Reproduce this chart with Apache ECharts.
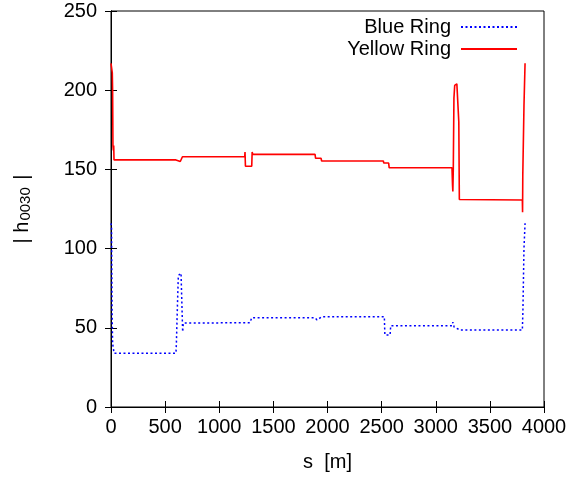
<!DOCTYPE html>
<html>
<head>
<meta charset="utf-8">
<script src="https://cdn.jsdelivr.net/npm/echarts@6/dist/echarts.min.js"></script>
<style>html,body{margin:0;padding:0;background:#fff}#c{width:572px;height:477px}</style>
</head>
<body>
<div id="c"></div>
<script>
// Blue Ring: s [m] and |h0030|
const blueS = [0, 5, 10, 15, 22, 28, 600, 604, 612, 622, 647, 662, 668, 1284, 1300, 1885, 1903, 1920, 1950, 2525, 2530, 2578, 2584, 3150, 3158, 3170, 3224, 3800, 3805, 3815, 3825];
const blueH = [116, 114, 60, 40, 37, 34, 34, 40, 60, 83, 84.5, 47.5, 53, 53.2, 56.4, 56.4, 55, 56, 57, 57, 45.5, 45.5, 51.3, 51.3, 53.5, 50.5, 48.6, 48.6, 60, 100, 116];
// Yellow Ring
const yellowS = [0, 8, 12, 15, 18, 22, 25, 28, 600, 606, 640, 645, 660, 1235, 1238, 1242, 1300, 1304, 1310, 1885, 1890, 1940, 1946, 2516, 2520, 2565, 2570, 3150, 3155, 3158, 3162, 3168, 3175, 3195, 3208, 3213, 3218, 3800, 3802, 3804, 3815, 3825];
const yellowH = [217, 216, 211, 200, 165, 162, 165, 156, 156, 155, 155, 156, 158, 158, 161, 152, 152, 161, 159.5, 159.5, 157, 157, 155.3, 155.3, 154, 154, 151, 151, 140, 136, 150, 195, 203, 204, 203, 180, 131, 130.7, 123, 146, 190, 217];
const xTicks = {min: 0, max: 4000, interval: 500};
const yTicks = {min: 0, max: 250, interval: 50};
const seriesNames = ['Blue Ring', 'Yellow Ring'];

const zip = (a, b) => a.map((v, i) => [v, b[i]]);
const FONT = 'Liberation Sans, Arial, sans-serif';
const chart = echarts.init(document.getElementById('c'), null, {renderer: 'canvas'});
const tickStyle = {show: true, inside: true, length: 6, lineStyle: {color: '#000', width: 1}};
chart.setOption({
  animation: false,
  backgroundColor: '#fff',
  grid: {left: 111, right: 28, top: 11, bottom: 70, show: true, borderColor: '#000', borderWidth: 1},
  legend: {
    orient: 'vertical', right: 49, top: 12, align: 'right',
    itemWidth: 56, itemHeight: 14, itemGap: 2,
    itemStyle: {opacity: 0},
    textStyle: {fontSize: 20, fontFamily: FONT, color: '#000', lineHeight: 20, padding: [0, 5, 0, 0]},
    data: seriesNames
  },
  xAxis: [{
    type: 'value', min: xTicks.min, max: xTicks.max, interval: xTicks.interval,
    name: 's  [m]', nameLocation: 'middle', nameGap: 45,
    nameTextStyle: {fontSize: 20, fontFamily: FONT, color: '#000'},
    axisLine: {show: true, lineStyle: {color: '#000'}}, axisTick: tickStyle,
    axisLabel: {fontSize: 20, fontFamily: FONT, color: '#000', margin: 10, formatter: v => String(v)},
    splitLine: {show: false}
  }, {
    type: 'value', position: 'top', min: xTicks.min, max: xTicks.max, interval: xTicks.interval,
    axisLine: {show: true, lineStyle: {color: '#000'}}, axisTick: tickStyle,
    axisLabel: {show: false}, splitLine: {show: false}
  }],
  yAxis: [{
    type: 'value', min: yTicks.min, max: yTicks.max, interval: yTicks.interval,
    name: '{n|| h}{s|0030}{n| |}', nameLocation: 'middle', nameGap: 78, nameRotate: 90,
    nameTextStyle: {fontSize: 20, fontFamily: FONT, color: '#000',
      rich: {n: {fontSize: 20, fontFamily: FONT, color: '#000'},
             s: {fontSize: 15, fontFamily: FONT, color: '#000', verticalAlign: 'bottom', padding: [7, 2, 0, 1]}}},
    axisLine: {show: true, lineStyle: {color: '#000'}}, axisTick: tickStyle,
    axisLabel: {fontSize: 20, fontFamily: FONT, color: '#000', margin: 14},
    splitLine: {show: false}
  }, {
    type: 'value', position: 'right', min: yTicks.min, max: yTicks.max, interval: yTicks.interval,
    axisLine: {show: true, lineStyle: {color: '#000'}}, axisTick: tickStyle,
    axisLabel: {show: false}, splitLine: {show: false}
  }],
  series: [{
    name: seriesNames[0], type: 'line', data: zip(blueS, blueH), showSymbol: false, symbol: 'none',
    color: '#0000ff', lineStyle: {color: '#0000ff', width: 1.5, type: [2, 2.5]}
  }, {
    name: seriesNames[1], type: 'line', data: zip(yellowS, yellowH), showSymbol: false, symbol: 'none',
    color: '#ff0000', lineStyle: {color: '#ff0000', width: 1.6}
  }]
});
</script>
</body>
</html>
